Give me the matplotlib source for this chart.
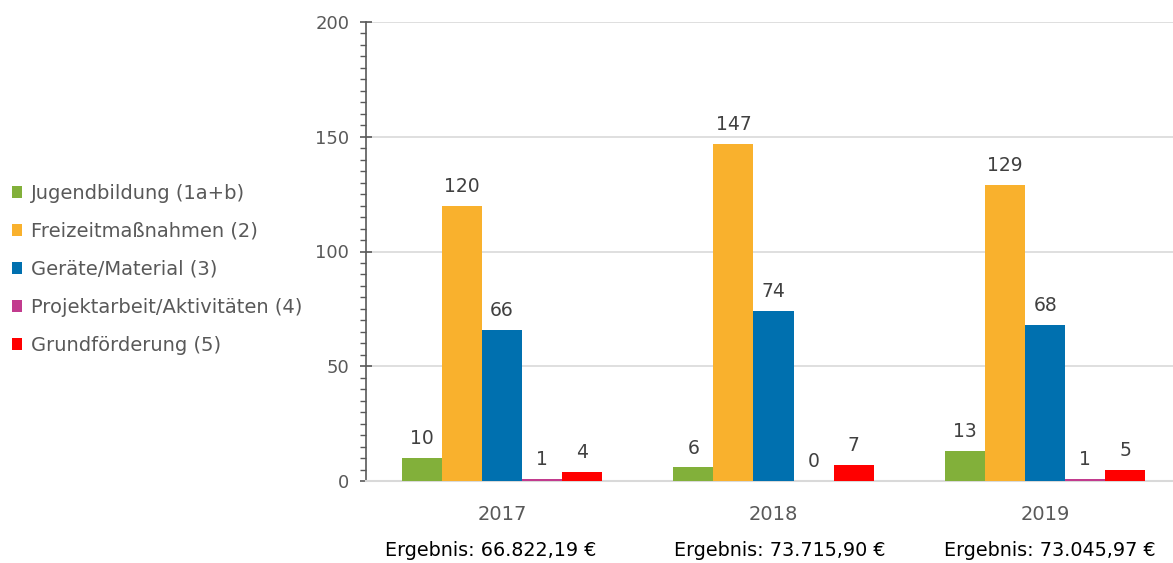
import matplotlib
matplotlib.use("Agg")
import matplotlib.pyplot as plt
import numpy as np
from matplotlib.ticker import MultipleLocator

years = ["2017", "2018", "2019"]
series_names = ["Jugendbildung (1a+b)", "Freizeitmaßnahmen (2)", "Geräte/Material (3)",
                "Projektarbeit/Aktivitäten (4)", "Grundförderung (5)"]
jugendbildung = [10, 6, 13]
freizeit = [120, 147, 129]
geraete = [66, 74, 68]
projekt = [1, 0, 1]
grund = [4, 7, 5]
ergebnis = ["Ergebnis: 66.822,19 €", "Ergebnis: 73.715,90 €", "Ergebnis: 73.045,97 €"]

series = [jugendbildung, freizeit, geraete, projekt, grund]
colors = ["#82B03A", "#F9B12D", "#0070AF", "#C23B8E", "#FF0000"]

fig = plt.figure(figsize=(11.73, 5.63), dpi=100)
W, H = 1173, 563
x0, x1 = 366, 1181
y0, y1 = 481, 22
ax = fig.add_axes([x0 / W, (H - y0) / H, (x1 - x0) / W, (y0 - y1) / H])

x = np.arange(len(years))
bw = 0.1475
txtc = "#595959"
for i, (vals, c) in enumerate(zip(series, colors)):
    pos = x + (i - 2) * bw
    ax.bar(pos, vals, width=bw, color=c, label=series_names[i], zorder=3,
           linewidth=0)
    for p, v in zip(pos, vals):
        ax.annotate(str(v), (p, v), xytext=(0, 7), textcoords="offset points",
                    ha="center", va="bottom", fontsize=13.5, color="#404040")

ax.set_xlim(-0.5, 2.5)
ax.set_ylim(0, 200)
ax.yaxis.set_major_locator(MultipleLocator(50))
ax.yaxis.set_minor_locator(MultipleLocator(5))
ax.grid(axis="y", color="#D9D9D9", linewidth=1.2, zorder=0)
ax.set_axisbelow(True)
for s in ["top", "right"]:
    ax.spines[s].set_visible(False)
ax.spines["bottom"].set_color("#D9D9D9")
ax.spines["bottom"].set_linewidth(1.5)
ax.spines["left"].set_color("#595959")
ax.spines["left"].set_linewidth(1.2)
ax.tick_params(axis="y", which="major", direction="inout", length=8, width=1.2,
               color="#595959", labelsize=13, labelcolor=txtc, pad=8)
ax.tick_params(axis="y", which="minor", direction="out", length=4, width=1.0,
               color="#595959")
ax.tick_params(axis="x", length=0, labelsize=14, labelcolor=txtc, pad=17)
ax.set_xticks(x)
ax.set_xticklabels(years)

ergebnis_x = [491, 780, 1050]
for ex, t in zip(ergebnis_x, ergebnis):
    fig.text(ex / W, 1 - 551 / H, t, ha="center", va="center", fontsize=13.8,
             color="black")

handles, labels = ax.get_legend_handles_labels()
leg = fig.legend(handles, labels, loc="upper left", bbox_to_anchor=(4 / W, 1 - 176 / H),
                 frameon=False, fontsize=14, handlelength=0.55, handleheight=0.55,
                 handletextpad=0.45, labelspacing=0.98, borderaxespad=0)
for t in leg.get_texts():
    t.set_color(txtc)

fig.savefig("out.png", dpi=100)
